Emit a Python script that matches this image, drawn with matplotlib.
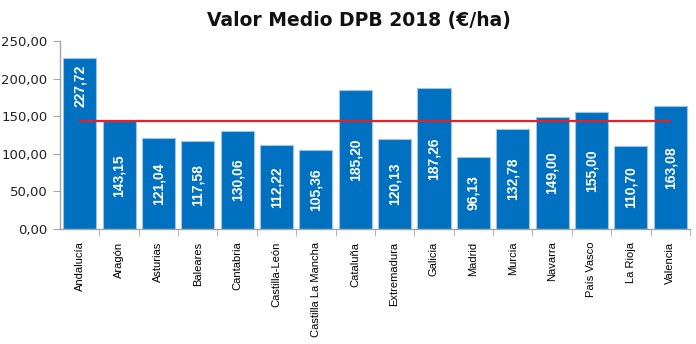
import matplotlib
matplotlib.use("Agg")
import matplotlib.pyplot as plt
from matplotlib.ticker import FixedLocator, FuncFormatter

REGIONS = [
    "Andalucía", "Aragón", "Asturias", "Baleares", "Cantabria",
    "Castilla-León", "Castilla La Mancha", "Cataluña", "Extremadura",
    "Galicia", "Madrid", "Murcia", "Navarra", "País Vasco", "La Rioja",
    "Valencia",
]
VALUES = [
    227.72, 143.15, 121.04, 117.58, 130.06, 112.22, 105.36, 185.20,
    120.13, 187.26, 96.13, 132.78, 149.00, 155.00, 110.70, 163.08,
]
NATIONAL_MEAN = 143.8
Y_TICKS = [0, 50, 100, 150, 200, 250]

BAR_BLUE = "#0070C0"
BAR_EDGE = "#9DC3E6"
AXIS_GREY = "#A6A6A6"


def comma_fmt(v, pos=None):
    return f"{v:.2f}".replace(".", ",")


fig = plt.figure(figsize=(6.96, 3.44), dpi=100)
ax = fig.add_axes([0.0862, 0.334, 0.905, 0.547])

x = list(range(len(REGIONS)))

ax.bar(
    x,
    VALUES,
    width=0.84,
    color=BAR_BLUE,
    edgecolor=BAR_EDGE,
    linewidth=0.8,
    zorder=2
)

# labels inside bars; the tallest one sits near the top in the original
top = max(VALUES)
for xi, v in zip(x, VALUES):
    y = v / 2 if v != top else v - 38
    ax.text(
        xi, y, comma_fmt(v),
        rotation=90, ha="center", va="center",
        color="white", fontsize=10, fontfamily="Liberation Sans",
        fontweight="bold", zorder=4
    )

ax.plot(
    [x[0], x[-1]],
    [NATIONAL_MEAN, NATIONAL_MEAN],
    color="#EE1C25",
    linewidth=1.6,
    zorder=3
)

ax.set_xlim(-0.5, len(REGIONS) - 0.5)
ax.set_ylim(0, 250)

ax.yaxis.set_major_locator(FixedLocator(Y_TICKS))
ax.yaxis.set_major_formatter(FuncFormatter(comma_fmt))

ax.set_xticks(x)
ax.set_xticklabels(REGIONS, rotation=90, fontsize=8,
                   fontfamily="Liberation Sans", color="#000000")
ax.tick_params(axis="x", length=0, pad=9)
ax.set_xticks([i + 0.5 for i in x], minor=True)
ax.tick_params(axis="x", which="minor", length=5, color=AXIS_GREY, direction="out")
ax.tick_params(axis="y", length=5, color=AXIS_GREY, labelsize=9.5, pad=4,
               labelcolor="#222222")

for side in ["top", "right"]:
    ax.spines[side].set_visible(False)
for side in ["left", "bottom"]:
    ax.spines[side].set_color(AXIS_GREY)
    ax.spines[side].set_linewidth(1.0)

fig.text(
    0.515, 0.94,
    "Valor Medio DPB 2018 (€/ha)",
    ha="center", va="center",
    fontsize=13.5, fontweight="bold", color="#111111"
)

fig.savefig("out.png", dpi=100, facecolor="white")
